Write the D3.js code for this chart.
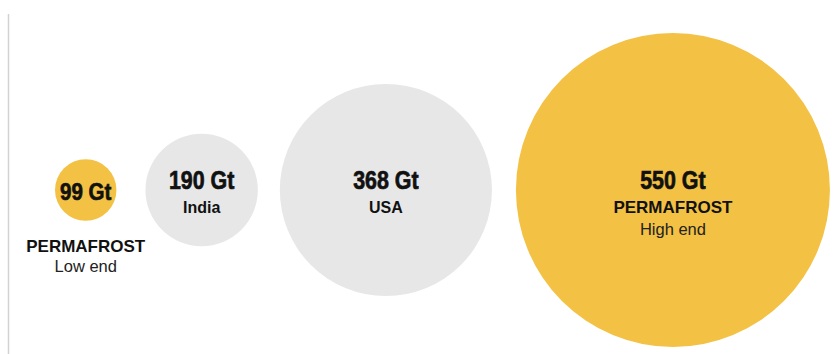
<!DOCTYPE html>
<html>
<head>
<meta charset="utf-8">
<script src="https://cdn.jsdelivr.net/npm/d3@7"></script>
<style>
  html, body { margin: 0; padding: 0; background: #fff; }
  svg { display: block; }
</style>
</head>
<body>
<div id="chart"></div>
<script>
"use strict";

// Data
var values = [99, 190, 368, 550];
var units = "Gt";
var names = ["PERMAFROST", "India", "USA", "PERMAFROST"];
var notes = ["Low end", "", "", "High end"];
var kinds = ["permafrost", "country", "country", "permafrost"];

var width = 838, height = 354;

var svg = d3.select("#chart")
            .append("svg")
            .attr("width", width)
            .attr("height", height);

// left rule
svg.append("line")
   .attr("x1", 8.5).attr("x2", 8.5)
   .attr("y1", 14).attr("y2", height)
   .attr("stroke", "#d2d2d2")
   .attr("stroke-width", 1.5);

// radius scale (roughly linear in value, as in the original)
var rScale = d3.scaleLinear()
               .domain([0, 550])
               .range([3, 157]);

var colorScale = d3.scaleOrdinal()
                   .domain(["permafrost", "country"])
                   .range(["#f3c143", "#e7e7e8"]);

// lay circles out left to right with gaps
var gaps = [0, 29, 22, 24];
var startX = 55;
var centerY = 190;
var data = [];
var edge = startX;
values.forEach(function(v, i) {
  var r = rScale(v);
  var cx = edge + gaps[i] + r;
  edge = cx + r;
  data.push({ value: v, name: names[i], note: notes[i], kind: kinds[i], r: r, cx: cx });
});

var groups = svg.selectAll("g.bubble")
                .data(data)
                .enter()
                .append("g")
                .attr("class", "bubble")
                .attr("transform", function(d) { return "translate(" + d.cx + "," + centerY + ")"; });

groups.append("circle")
      .attr("r", function(d) { return d.r; })
      .attr("fill", function(d) { return colorScale(d.kind); });

// value labels, squeezed to look condensed and heavy
groups.append("text")
      .attr("text-anchor", "middle")
      .attr("transform", function(d, i) {
        return "translate(0," + (i === 0 ? 10 : -1) + ") scale(0.84,1)";
      })
      .attr("font-family", "'Liberation Sans', Arial, sans-serif")
      .attr("font-weight", "bold")
      .attr("font-size", function(d, i) { return i === 0 ? 24.5 : 25.5; })
      .attr("fill", "#111")
      .attr("stroke", "#111")
      .attr("stroke-width", 0.7)
      .text(function(d) { return d.value + " " + units; });

// name labels: first one sits under the small circle
groups.append("text")
      .attr("text-anchor", "middle")
      .attr("y", function(d, i) { return i === 0 ? 62 : 23; })
      .attr("font-family", "'Liberation Sans', Arial, sans-serif")
      .attr("font-weight", "bold")
      .attr("font-size", function(d) { return d.name === "PERMAFROST" ? 17 : 16; })
      .attr("fill", "#111")
      .text(function(d) { return d.name; });

groups.filter(function(d) { return d.note !== ""; })
      .append("text")
      .attr("text-anchor", "middle")
      .attr("y", function(d, i) { return i === 0 ? 82 : 45; })
      .attr("font-family", "'Liberation Sans', Arial, sans-serif")
      .attr("font-size", 16.5)
      .attr("fill", "#222")
      .text(function(d) { return d.note; });
</script>
</body>
</html>
